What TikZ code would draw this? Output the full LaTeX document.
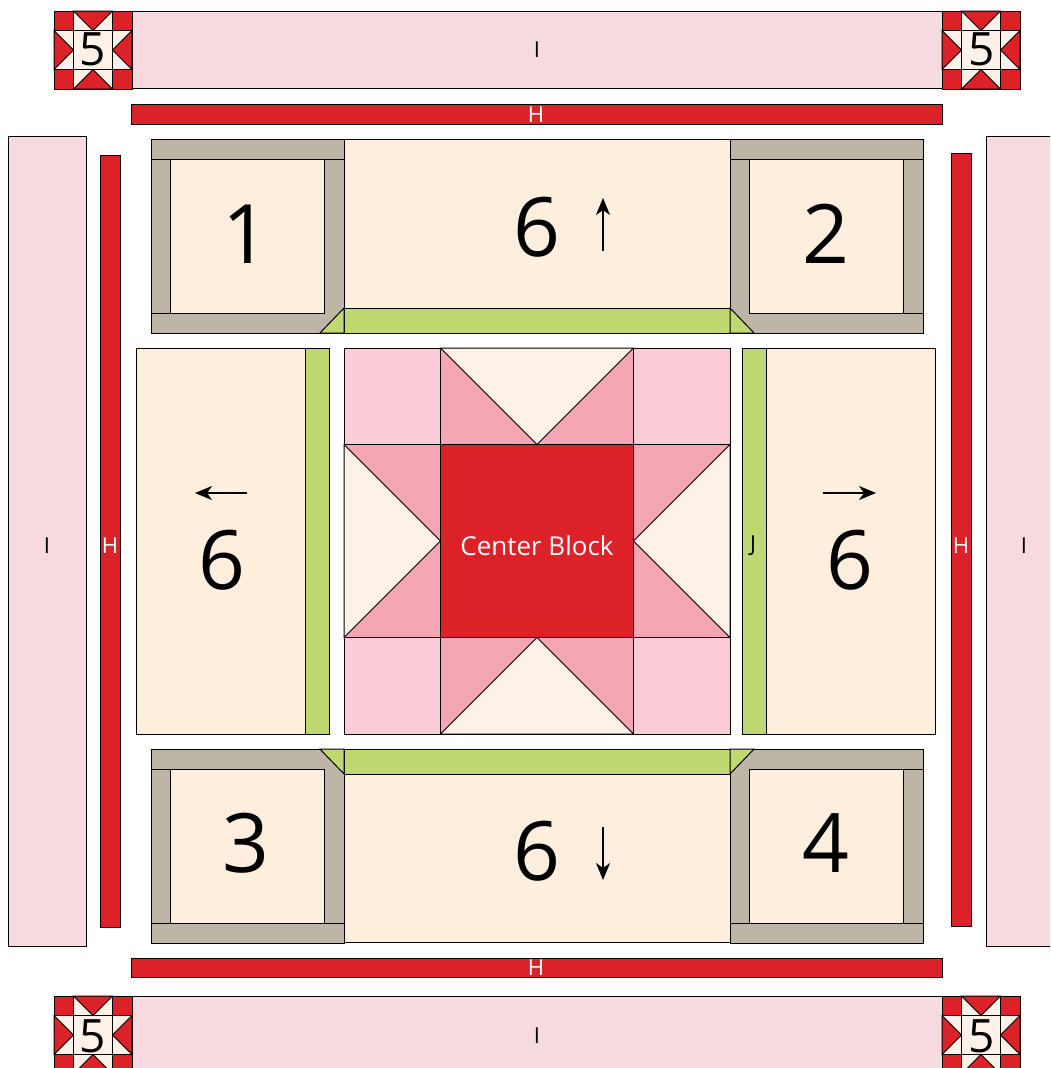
\documentclass[tikz,border=0pt]{standalone}
\usepackage{fontspec}
\setmainfont{Open Sans}
\usetikzlibrary{arrows.meta}

\definecolor{quiltred}{HTML}{DC2228}
\definecolor{borderpink}{HTML}{F7DADF}
\definecolor{quiltcream}{HTML}{FEEEDD}
\definecolor{palecream}{HTML}{FEF1E7}
\definecolor{quilttaupe}{HTML}{BDB5A6}
\definecolor{quiltgreen}{HTML}{BFD970}
\definecolor{lightpink}{HTML}{F9CCD7}
\definecolor{midpink}{HTML}{F5A6B5}

\tikzset{
    piece/.style={draw=black, line width=1pt, line join=miter},
    bignum/.style={font=\fontsize{82}{82}\selectfont},
    smallnum/.style={font=\fontsize{46}{46}\selectfont},
    letter/.style={font=\fontsize{22}{22}\selectfont},
    whiteletter/.style={letter, text=white},
    grainarrow/.style={-{Stealth[length=17pt,width=14pt,inset=5pt]}, line width=1.7pt},
}

% star block: x, y, unit, corner, centre, goose, sides
\newcommand{\starblock}[7]{
    \begin{scope}[shift={(#1,#2)}, x=#3pt, y=-#3pt]
        \foreach \cx/\cy in {0/0,3/0,0/3,3/3}
            \draw[piece, fill=#4] (\cx,\cy) rectangle ++(1,1);
        % the sides first, then the goose: base, base, apex
        \draw[piece, fill=#7] (1,0) rectangle (3,1);
        \draw[piece, fill=#7] (1,3) rectangle (3,4);
        \draw[piece, fill=#7] (0,1) rectangle (1,3);
        \draw[piece, fill=#7] (3,1) rectangle (4,3);
        \foreach \ax/\ay/\bx/\by/\px/\py in {1/0/3/0/2/1, 1/4/3/4/2/3, 0/1/0/3/1/2, 4/1/4/3/3/2}
            \draw[piece, fill=#6] (\ax,\ay) -- (\bx,\by) -- (\px,\py) -- cycle;
        \draw[piece, fill=#5] (1,1) rectangle (3,3);
    \end{scope}
}

\begin{document}
\begin{tikzpicture}[x=1pt, y=-1pt]
    \useasboundingbox (0,0) rectangle (1050,1068);
    \clip (0,0) rectangle (1050,1068);

    % Draw the outer pink borders
    \draw[piece, fill=borderpink] (54,11) rectangle (1020,88);
    \draw[piece, fill=borderpink] (54,996) rectangle (1020,1074);
    \draw[piece, fill=borderpink] (8,136) rectangle (86,946);
    \draw[piece, fill=borderpink] (986,136) rectangle (1064,946);

    % Draw the small star blocks
    \foreach \sx in {54,942} {
        \starblock{\sx}{11}{19.5}{quiltred}{palecream}{quiltred}{palecream}
        \starblock{\sx}{996}{19.5}{quiltred}{palecream}{quiltred}{palecream}
    }

    % Draw the red strips
    \draw[piece, fill=quiltred] (131,104) rectangle (942,124);
    \draw[piece, fill=quiltred] (131,958) rectangle (942,977);
    \draw[piece, fill=quiltred] (100,155) rectangle (120,927);
    \draw[piece, fill=quiltred] (951,153) rectangle (971,926);

    % Draw the corner blocks with their taupe frames
    \foreach \bx/\by in {151/139,730/139,151/749,730/749} {
        \draw[piece, fill=quilttaupe] (\bx,\by) rectangle ++(193,194);
        \draw[piece, fill=quiltcream] (\bx+19,\by+20) rectangle ++(154,154);
    }
    \draw[piece] (151,159) -- (344,159);
    \draw[piece] (151,313) -- (170,313);
    \draw[piece] (730,159) -- (923,159);
    \draw[piece] (903,313) -- (923,313);
    \draw[piece] (151,769) -- (170,769);
    \draw[piece] (151,923) -- (344,923);
    \draw[piece] (903,769) -- (923,769);
    \draw[piece] (730,923) -- (923,923);

    % Draw the cream rectangles
    \draw[piece, fill=quiltcream] (344,139) rectangle (730,308);
    \draw[piece, fill=quiltcream] (344,774) rectangle (730,942);
    \draw[piece, fill=quiltcream] (136,348) rectangle (305,734);
    \draw[piece, fill=quiltcream] (766,348) rectangle (935,734);

    % Draw the green strips
    \draw[piece, fill=quiltgreen] (344,308) rectangle (730,333);
    \draw[piece, fill=quiltgreen] (344,749) rectangle (730,774);
    \draw[piece, fill=quiltgreen] (305,348) rectangle (329,734);
    \draw[piece, fill=quiltgreen] (742,348) rectangle (766,734);

    % Draw the green corner triangles
    \draw[piece, fill=quiltgreen] (320,333) -- (344,308) -- (344,333) -- cycle;
    \draw[piece, fill=quiltgreen] (754,333) -- (730,308) -- (730,333) -- cycle;
    \draw[piece, fill=quiltgreen] (320,749) -- (344,774) -- (344,749) -- cycle;
    \draw[piece, fill=quiltgreen] (754,749) -- (730,774) -- (730,749) -- cycle;

    % Draw the center star
    \starblock{344}{348}{96.5}{lightpink}{quiltred}{palecream}{midpink}

    % Define the ends of the arrows
    \coordinate (upA) at (603,251);
    \coordinate (upB) at (603,198);
    \coordinate (downA) at (603,827);
    \coordinate (downB) at (603,880);
    \coordinate (leftA) at (247,493);
    \coordinate (leftB) at (195,493);
    \coordinate (rightA) at (823,493);
    \coordinate (rightB) at (876,493);

    % Draw the arrows
    \draw[grainarrow] (upA) -- (upB);
    \draw[grainarrow] (downA) -- (downB);
    \draw[grainarrow] (leftA) -- (leftB);
    \draw[grainarrow] (rightA) -- (rightB);

    % Place the big numbers
    \node[bignum] (one) at (246,234) {1};
    \node[bignum] (two) at (826,234) {2};
    \node[bignum] (three) at (246,843) {3};
    \node[bignum] (four) at (826,843) {4};
    \node[bignum] (sixtop) at (537,227) {6};
    \node[bignum] (sixbottom) at (537,851) {6};
    \node[bignum] (sixleft) at (222,560) {6};
    \node[bignum] (sixright) at (850,560) {6};

    % Place the numbers of the star blocks
    \node[smallnum] (fiveA) at (93,49) {5};
    \node[smallnum] (fiveB) at (982,49) {5};
    \node[smallnum] (fiveC) at (93,1036) {5};
    \node[smallnum] (fiveD) at (982,1036) {5};

    % Place the letters
    \node[letter] (itop) at (537,50) {I};
    \node[letter] (ibottom) at (537,1036) {I};
    \node[letter] (ileft) at (47,546) {I};
    \node[letter] (iright) at (1024,546) {I};
    \node[whiteletter] (htop) at (536,115) {H};
    \node[whiteletter] (hbottom) at (536,968) {H};
    \node[whiteletter] (hleft) at (110,546) {H};
    \node[whiteletter] (hright) at (961,546) {H};
    \node[letter] (jright) at (753,546) {J};
    \node[text=white, font=\fontsize{26}{26}\selectfont] (center) at (537,546) {Center Block};

\end{tikzpicture}
\end{document}
